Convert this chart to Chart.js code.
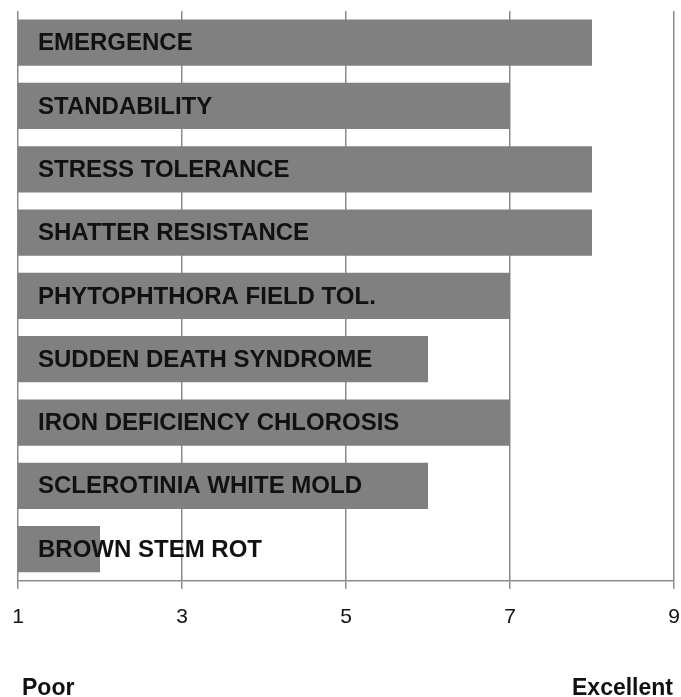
<!DOCTYPE html>
<html>
<head>
<meta charset="utf-8">
<script src="https://cdn.jsdelivr.net/npm/chart.js@4/dist/chart.umd.min.js"></script>
<style>
  html, body { margin: 0; padding: 0; background: #fff; }
  #wrap { width: 681px; height: 697px; position: relative; }
</style>
</head>
<body>
<div id="wrap"><canvas id="chart"></canvas></div>
<script>
// Trait ratings (1 = poor, 9 = excellent)
const traits = [
    'EMERGENCE',
    'STANDABILITY',
    'STRESS TOLERANCE',
    'SHATTER RESISTANCE',
    'PHYTOPHTHORA FIELD TOL.',
    'SUDDEN DEATH SYNDROME',
    'IRON DEFICIENCY CHLOROSIS',
    'SCLEROTINIA WHITE MOLD',
    'BROWN STEM ROT'
];
const ratings = [8, 7, 8, 8, 7, 6, 7, 6, 2];
const tickValues = [1, 3, 5, 7, 9];
const scaleEnds = ['Poor', 'Excellent'];

document.addEventListener('DOMContentLoaded', function() {
    const barColor = '#808080';
    const gridColor = '#8a8a8a';

    // Writes the trait name inside each bar, near the left edge
    const barLabels = {
        id: 'barLabels',
        afterDatasetsDraw(chart) {
            const ctx = chart.ctx;
            const meta = chart.getDatasetMeta(0);
            ctx.save();
            ctx.font = 'bold 24px "Liberation Sans", Arial, sans-serif';
            ctx.fillStyle = '#111';
            ctx.textBaseline = 'middle';
            ctx.textAlign = 'left';
            meta.data.forEach((bar, i) => {
                ctx.fillText(traits[i], chart.chartArea.left + 20, bar.y + 1);
            });
            ctx.restore();
        }
    };

    // "Poor" and "Excellent" under the axis
    const endLabels = {
        id: 'endLabels',
        afterDraw(chart) {
            const ctx = chart.ctx;
            ctx.save();
            ctx.font = 'bold 23px "Liberation Sans", Arial, sans-serif';
            ctx.fillStyle = '#111';
            ctx.textBaseline = 'alphabetic';
            ctx.textAlign = 'left';
            ctx.fillText(scaleEnds[0], 22, 695);
            ctx.textAlign = 'right';
            ctx.fillText(scaleEnds[1], 673, 695);
            ctx.restore();
        }
    };

    new Chart(document.getElementById('chart'), {
        type: 'bar',
        data: {
            labels: traits,
            datasets: [{
                data: ratings,
                backgroundColor: barColor,
                borderWidth: 0,
                categoryPercentage: 1,
                barPercentage: 0.73
            }]
        },
        options: {
            indexAxis: 'y',
            responsive: true,
            maintainAspectRatio: false,
            animation: false,
            layout: {
                padding: { left: 18, right: 7, top: 11, bottom: 51 }
            },
            plugins: {
                legend: { display: false },
                tooltip: { enabled: false }
            },
            scales: {
                x: {
                    min: 1,
                    max: 9,
                    afterBuildTicks(scale) {
                        scale.ticks = tickValues.map(v => ({ value: v }));
                    },
                    afterFit(scale) {
                        // edge labels fit inside the layout padding already
                        scale.paddingLeft = 0;
                        scale.paddingRight = 0;
                    },
                    grid: {
                        color: gridColor,
                        lineWidth: 1.5,
                        drawTicks: true,
                        tickLength: 8
                    },
                    border: { display: true, color: gridColor, width: 1.5 },
                    ticks: {
                        padding: 16,
                        color: '#111',
                        maxRotation: 0,
                        font: { family: '"Liberation Sans", Arial, sans-serif', size: 21 }
                    }
                },
                y: {
                    display: false,
                    grid: { display: false }
                }
            }
        },
        plugins: [barLabels, endLabels]
    });
});
</script>
</body>
</html>
